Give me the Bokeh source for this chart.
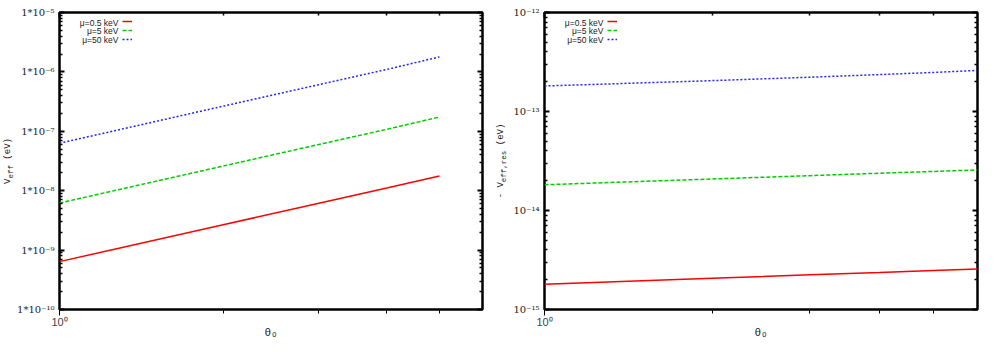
import math
from bokeh.plotting import figure
from bokeh.layouts import row
from bokeh.models import (LogAxis, FixedTicker, CustomJSTickFormatter, Legend,
                          LegendItem, Label, Range1d, Div)
from bokeh.embed import file_html
from bokeh.resources import INLINE

# ---------------- data ----------------
theta_left = [1, 2, 3, 4, 5]
veff_mu05 = [6.4e-10, 2.67e-9, 6.16e-9, 1.11e-8, 1.77e-8]
veff_mu5 = [6.2e-9, 2.6e-8, 6.0e-8, 1.08e-7, 1.74e-7]
veff_mu50 = [6.3e-8, 2.65e-7, 6.1e-7, 1.1e-6, 1.79e-6]

theta_right = [1, 2, 3, 4, 5, 6]
vres_mu05 = [1.80e-15, 2.07e-15, 2.24e-15, 2.37e-15, 2.48e-15, 2.57e-15]
vres_mu5 = [1.82e-14, 2.08e-14, 2.25e-14, 2.38e-14, 2.48e-14, 2.57e-14]
vres_mu50 = [1.81e-13, 2.05e-13, 2.22e-13, 2.36e-13, 2.48e-13, 2.60e-13]

series_labels = ["\u03bc=0.5 keV", "\u03bc=5 keV", "\u03bc=50 keV"]
x_major_ticks = [1]
x_minor_ticks = [2, 3, 4, 5]
left_decades = (-10, -5)
right_decades = (-15, -12)

# ---------------- style ----------------
colors = ["#ff0000", "#00cc00", "#2222ff"]
dashes = ["solid", "4 2", "2 2"]
TICK_FONT = "DejaVu Serif"
MONO = "Liberation Mono"
SANS = "Liberation Sans"
H = 350
FRAME_H = 298

SUP = "{'-':'\u207b','0':'\u2070','1':'\u00b9','2':'\u00b2','3':'\u00b3','4':'\u2074','5':'\u2075','6':'\u2076','7':'\u2077','8':'\u2078','9':'\u2079'}"


def fmt(prefix):
    return CustomJSTickFormatter(code="""
const sup = %s;
const e = Math.round(Math.log10(tick));
return '%s' + String(e).split('').map(c => sup[c]).join('');
""" % (SUP, prefix))


blank = CustomJSTickFormatter(code="return '';")


def decade_ticks(lo, hi):
    major = [10.0 ** e for e in range(lo, hi + 1)]
    minor = [m * 10.0 ** e for e in range(lo, hi) for m in range(2, 10)]
    return major, minor


def style_axis(ax):
    ax.axis_line_color = None
    ax.major_tick_in = 5
    ax.major_tick_out = 0
    ax.minor_tick_in = 3
    ax.minor_tick_out = 0
    ax.major_tick_line_width = 2
    ax.minor_tick_line_width = 1.5
    ax.major_label_text_font = TICK_FONT
    ax.major_label_text_font_size = "10px"
    ax.major_label_text_color = "#222222"


def make_fig(width, borders, decades, ylabel_prefix, xs, ys_list):
    lo, hi = decades
    bl, br, bt, bb = borders
    p = figure(width=width, height=H, x_axis_type="log", y_axis_type="log",
               x_range=Range1d(1, 6), y_range=Range1d(10.0 ** lo, 10.0 ** hi),
               output_backend="svg", toolbar_location=None,
               min_border_left=bl, min_border_right=br,
               min_border_top=bt, min_border_bottom=bb)
    p.grid.visible = False
    p.outline_line_color = "black"
    p.outline_line_width = 2.5
    p.background_fill_color = "white"

    ymaj, ymin = decade_ticks(lo, hi)
    p.xaxis.ticker = FixedTicker(ticks=x_major_ticks, minor_ticks=x_minor_ticks)
    p.xaxis.formatter = fmt("10")
    p.yaxis.ticker = FixedTicker(ticks=ymaj, minor_ticks=ymin)
    p.yaxis.formatter = fmt(ylabel_prefix)
    p.xaxis.major_label_standoff = 0
    p.yaxis.major_label_standoff = 5
    p.xaxis.axis_label = "\u03b8\u2092"
    p.xaxis.axis_label_text_font = MONO
    p.xaxis.axis_label_text_font_size = "11px"
    p.xaxis.axis_label_text_font_style = "normal"
    p.xaxis.axis_label_text_color = "#222222"
    p.xaxis.axis_label_standoff = -4

    top = LogAxis(ticker=FixedTicker(ticks=x_major_ticks, minor_ticks=x_minor_ticks),
                  formatter=blank)
    right = LogAxis(ticker=FixedTicker(ticks=ymaj, minor_ticks=ymin), formatter=blank)
    p.add_layout(top, "above")
    p.add_layout(right, "right")
    for ax in [p.xaxis[0], p.yaxis[0], top, right]:
        style_axis(ax)
    for ax in [top, right]:
        ax.major_label_text_font_size = "0px"
        ax.major_label_standoff = 0

    items = []
    for ys, c, d in zip(ys_list, colors, dashes):
        r = p.line(xs, ys, line_color=c, line_dash=d, line_width=1.5)
        items.append(LegendItem(label="", renderers=[r]))
    leg = Legend(items=items, location=(63, FRAME_H - 32), glyph_width=10,
                 glyph_height=8, spacing=1, padding=0, margin=0,
                 label_standoff=0, label_width=0, label_height=8,
                 background_fill_alpha=0, border_line_color=None)
    p.add_layout(leg, "center")
    for i, lab in enumerate(series_labels):
        p.add_layout(Label(x=59, y=FRAME_H - 11 - 8.5 * i, x_units="screen",
                           y_units="screen", text=lab, text_align="right",
                           text_baseline="middle", text_font=SANS,
                           text_font_size="8.5px", text_color="#222222"))
    return p


def ytitle(html, width, center_x, center_y):
    inner = ('<div style="position:relative;width:%dpx;height:%dpx;">'
             '<span style="position:absolute;left:%dpx;top:%dpx;'
             'transform:translate(-50%%,-50%%) rotate(-90deg);white-space:nowrap;'
             'font-family:\'Liberation Mono\';font-size:9px;color:#222;line-height:11px;">'
             '%s</span></div>') % (width, H, center_x, center_y, html)
    return Div(text=inner, width=width, height=H, margin=0,
               styles={"overflow": "visible"})


d1 = ytitle('V<sub style="font-size:7.5px">eff</sub> (eV)', 14, 10, 161)
p1 = make_fig(482, (45, 14, 11, 41), left_decades, "1*10", theta_left,
              [veff_mu05, veff_mu5, veff_mu50])
d2 = ytitle('- V<sub style="font-size:7.5px">eff,res</sub> (eV)', 14, 7, 161)
p2 = make_fig(482, (33, 15, 12, 40), right_decades, "10", theta_right,
              [vres_mu05, vres_mu5, vres_mu50])

layout = row(d1, p1, d2, p2, spacing=0)
open("out.html", "w").write(file_html(layout, INLINE))
